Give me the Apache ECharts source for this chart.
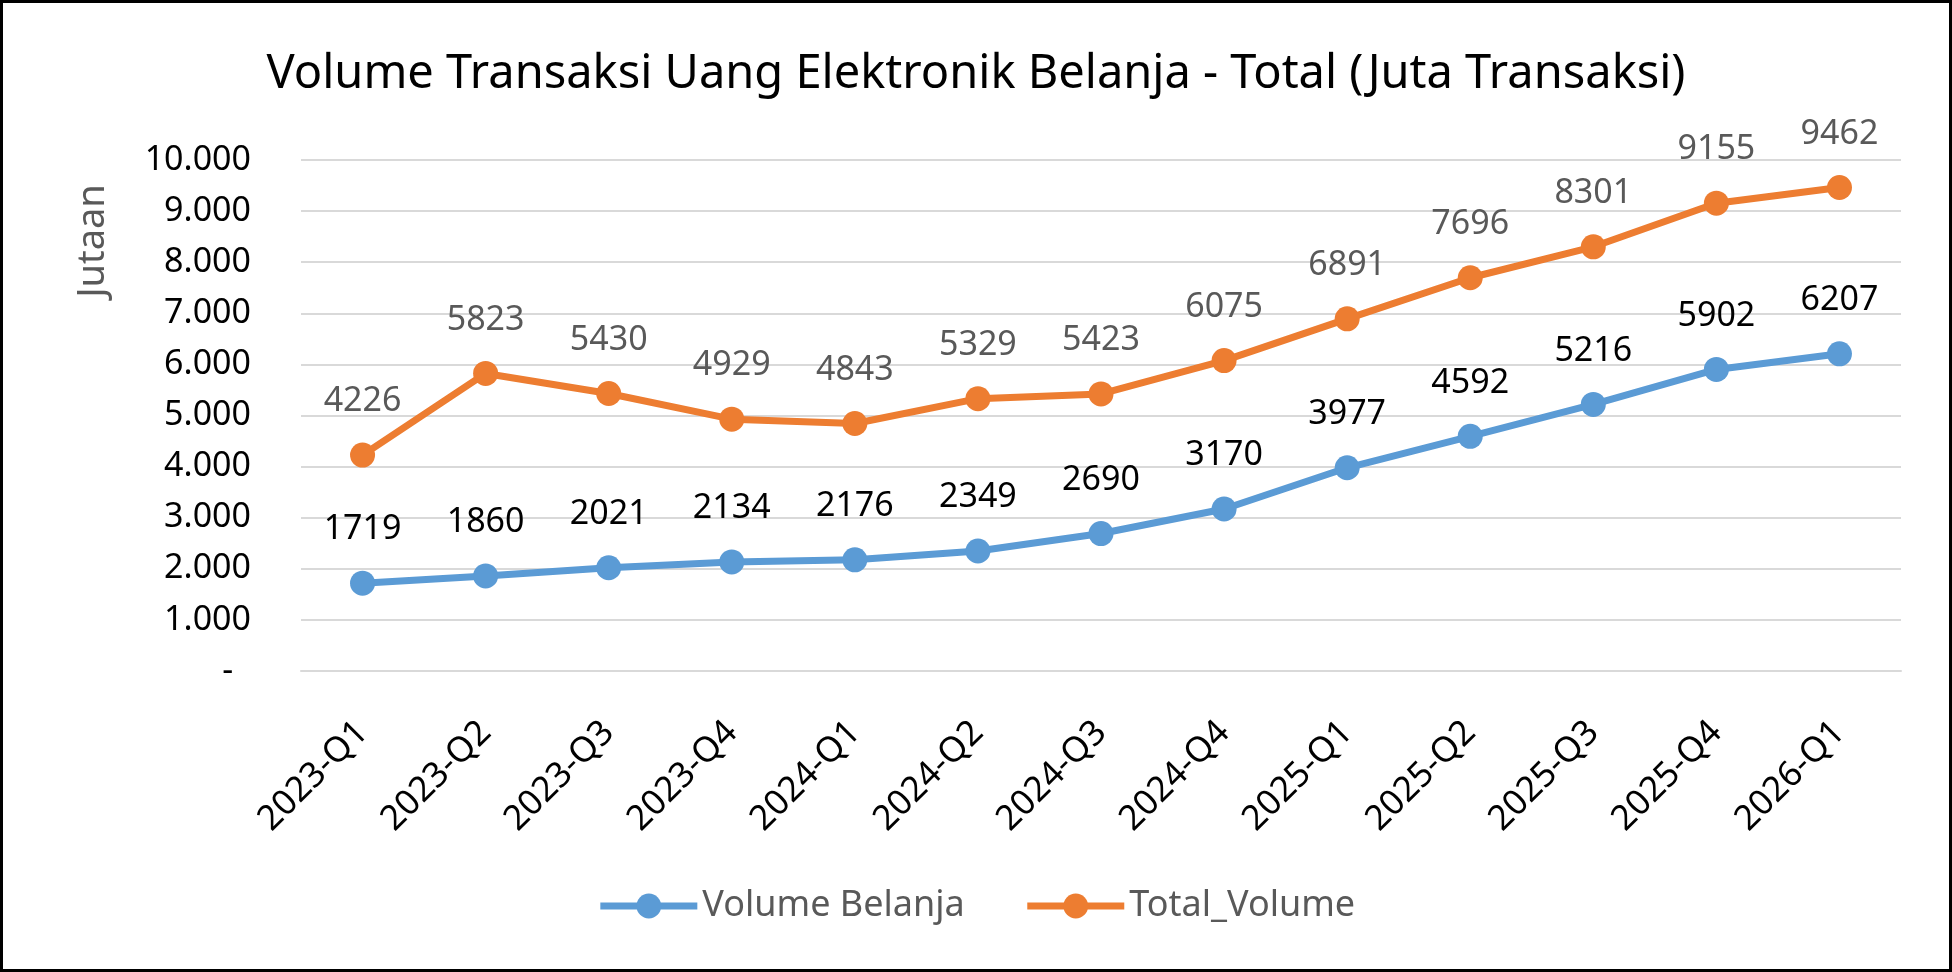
<!DOCTYPE html>
<html>
<head>
<meta charset="utf-8">
<script src="https://cdn.jsdelivr.net/npm/echarts@6/dist/echarts.min.js"></script>
<style>
html,body{margin:0;padding:0;background:#fff;}
#chart{width:1952px;height:972px;box-sizing:border-box;border:3px solid #000;}
</style>
</head>
<body>
<div id="chart"></div>
<script>
const categories = ['2023-Q1','2023-Q2','2023-Q3','2023-Q4','2024-Q1','2024-Q2','2024-Q3','2024-Q4','2025-Q1','2025-Q2','2025-Q3','2025-Q4','2026-Q1'];
const volumeBelanja = [1719,1860,2021,2134,2176,2349,2690,3170,3977,4592,5216,5902,6207];
const totalVolume = [4226,5823,5430,4929,4843,5329,5423,6075,6891,7696,8301,9155,9462];
const yMin = 0, yMax = 10000, yStep = 1000;

const FONT = 'Noto Sans';
const chart = echarts.init(document.getElementById('chart'), null, {renderer:'canvas'});

function fmtY(v){
  if (v === 0) return '-  ';
  return String(v).replace(/\B(?=(\d{3})+(?!\d))/g, '.');
}

chart.setOption({
  animation:false,
  textStyle:{fontFamily:FONT},
  title:{
    text:'Volume Transaksi Uang Elektronik Belanja - Total (Juta Transaksi)',
    left:'center', top:43,
    textStyle:{fontFamily:FONT,fontSize:47,fontWeight:'normal',color:'#000'}
  },
  legend:{
    bottom:40, left:'center',
    itemWidth:97, itemHeight:31, itemGap:59,
    lineStyle:{width:7},
    textStyle:{fontFamily:FONT,fontSize:36,color:'#595959'},
    data:['Volume Belanja','Total_Volume']
  },
  graphic:[{
    type:'text', x:90, y:238, rotation:Math.PI/2,
    style:{text:'Jutaan', fontFamily:FONT, fontSize:38, fill:'#595959', align:'center', verticalAlign:'middle'}
  }],
  grid:{left:298, right:48, top:157, bottom:298, containLabel:false},
  xAxis:{
    type:'category',
    data:categories,
    boundaryGap:true,
    axisLine:{show:true,lineStyle:{color:'#D9D9D9',width:2}},
    axisTick:{show:false},
    axisLabel:{rotate:45, margin:56, fontFamily:FONT, fontSize:35, color:'#000', interval:0}
  },
  yAxis:{
    type:'value',
    min:yMin, max:yMax, interval:yStep,
    axisLine:{show:false},
    axisTick:{show:false},
    splitLine:{lineStyle:{color:'#D9D9D9',width:2}},
    axisLabel:{margin:50, fontFamily:FONT, fontSize:34, color:'#000', formatter:fmtY}
  },
  series:[
    {
      name:'Volume Belanja', type:'line', data:volumeBelanja,
      symbol:'circle', symbolSize:25,
      lineStyle:{width:7,color:'#5B9BD5'},
      itemStyle:{color:'#5B9BD5'},
      label:{show:true, position:'top', distance:24, fontFamily:FONT, fontSize:34, color:'#000'}
    },
    {
      name:'Total_Volume', type:'line', data:totalVolume,
      symbol:'circle', symbolSize:25,
      lineStyle:{width:7,color:'#ED7D31'},
      itemStyle:{color:'#ED7D31'},
      label:{show:true, position:'top', distance:24, fontFamily:FONT, fontSize:34, color:'#595959'}
    }
  ]
});
</script>
</body>
</html>
